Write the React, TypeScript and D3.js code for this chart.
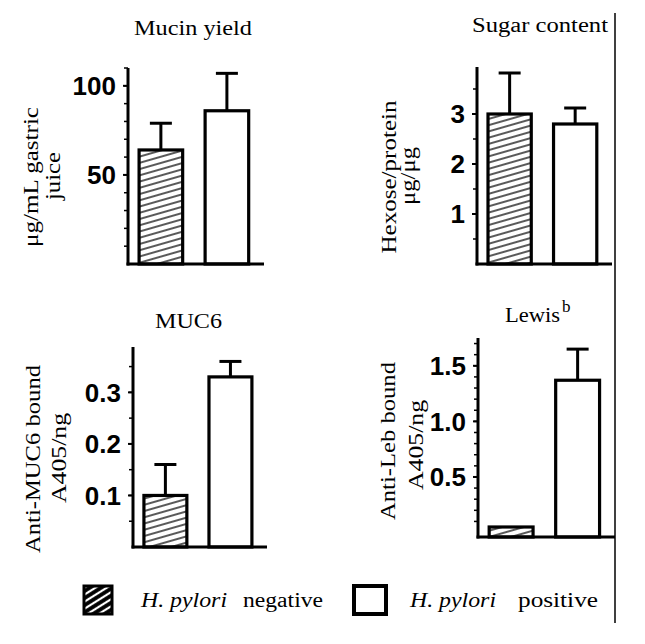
import React from "react";
import * as d3 from "d3";

// ---- data ----
const groups = ["negative", "positive"];
const panelTitles = ["Mucin yield", "Sugar content", "MUC6", "Lewis"];
const mucinMeans = [64, 86];
const mucinErr = [15, 21];
const sugarMeans = [3.0, 2.8];
const sugarErr = [0.82, 0.32];
const muc6Means = [0.1, 0.33];
const muc6Err = [0.06, 0.03];
const lewisMeans = [0.05, 1.37];
const lewisErr = [0, 0.28];
const mucinTicks = [50, 100];
const sugarTicks = [1, 2, 3];
const muc6Ticks = [0.1, 0.2, 0.3];
const lewisTicks = [0.5, 1.0, 1.5];
const mucinLabel = ["\u03bcg/mL gastric", "juice"];
const sugarLabel = ["Hexose/protein", "\u03bcg/\u03bcg"];
const muc6Label = ["Anti-MUC6 bound", "A405/ng"];
const lewisLabel = ["Anti-Leb bound", "A405/ng"];
const legendItalic = "H. pylori";

const SERIF = "'Liberation Serif', 'Times New Roman', serif";
const SANS = "'Liberation Sans', Arial, sans-serif";

type PanelProps = {
  title: string;
  sup?: string;
  titleX: number;
  titleY: number;
  titleLen: number;
  means: number[];
  errs: number[];
  ticks: number[];
  fmt: string;
  minorStep: number;
  domain: [number, number];
  axisX: number;
  right: number;
  top: number;
  base: number;
  labels: string[];
  labelPos: { x: number; y: number; len: number }[];
};

function Panel(p: PanelProps) {
  const y = d3.scaleLinear().domain(p.domain).range([p.base, p.top]);
  const x = d3
    .scaleBand<string>()
    .domain(groups)
    .range([p.axisX, p.right])
    .paddingInner(0.34)
    .paddingOuter(0.2)
    .align(0.42);
  const f = d3.format(p.fmt);
  const minors = d3
    .range(Math.ceil(p.domain[0] / p.minorStep) * p.minorStep, p.domain[1] + 1e-9, p.minorStep)
    .filter((v) => v > 0);
  return (
    <g>
      <text
        x={p.titleX}
        y={p.titleY}
        fontFamily={SERIF}
        fontSize={20}
        textLength={p.titleLen}
        lengthAdjust="spacingAndGlyphs"
      >
        {p.title}
      </text>
      {p.sup && (
        <text x={p.titleX + p.titleLen + 2} y={p.titleY - 10} fontFamily={SERIF} fontSize={17}>
          {p.sup}
        </text>
      )}
      {p.labels.map((l, i) => (
        <text
          key={i}
          transform={`translate(${p.labelPos[i].x},${p.labelPos[i].y}) rotate(-90)`}
          textAnchor="middle"
          fontFamily={SERIF}
          fontSize={20}
          textLength={p.labelPos[i].len}
          lengthAdjust="spacingAndGlyphs"
        >
          {l}
        </text>
      ))}
      {minors.map((v, i) => (
        <line key={"m" + i} x1={p.axisX - 4} x2={p.axisX} y1={y(v)} y2={y(v)} stroke="#000" strokeWidth={1.5} />
      ))}
      {p.ticks.map((t, i) => (
        <g key={"t" + i}>
          <line x1={p.axisX - 5} x2={p.axisX} y1={y(t)} y2={y(t)} stroke="#000" strokeWidth={2} />
          <text
            x={p.axisX - 12}
            y={y(t)}
            dy="0.36em"
            textAnchor="end"
            fontFamily={SANS}
            fontWeight="bold"
            fontSize={26}
          >
            {f(t)}
          </text>
        </g>
      ))}
      {groups.map((g, i) => {
        const bx = x(g)!;
        const bw = x.bandwidth();
        const topY = y(p.means[i]);
        const cx = bx + bw / 2;
        return (
          <g key={g}>
            {p.errs[i] > 0 && (
              <g>
                <line x1={cx} x2={cx} y1={topY} y2={y(p.means[i] + p.errs[i])} stroke="#000" strokeWidth={3} />
                <line
                  x1={cx - 11}
                  x2={cx + 11}
                  y1={y(p.means[i] + p.errs[i])}
                  y2={y(p.means[i] + p.errs[i])}
                  stroke="#000"
                  strokeWidth={3}
                />
              </g>
            )}
            <rect
              x={bx}
              y={topY}
              width={bw}
              height={p.base - topY}
              fill={i === 0 ? "url(#hatch)" : "#fff"}
              stroke="#000"
              strokeWidth={3.2}
            />
          </g>
        );
      })}
      <line x1={p.axisX} x2={p.axisX} y1={p.top} y2={p.base + 1.5} stroke="#000" strokeWidth={3} />
      <line x1={p.axisX - 1.5} x2={p.right} y1={p.base} y2={p.base} stroke="#000" strokeWidth={3} />
    </g>
  );
}

export default function App() {
  return (
    <svg width={645} height={644} style={{ position: "absolute", left: 0, top: 0, background: "#fff" }}>
      <defs>
        <pattern id="hatch" patternUnits="userSpaceOnUse" width={12} height={6} patternTransform="rotate(-16)">
          <rect width={12} height={6} fill="#fff" />
          <line x1={0} x2={12} y1={3} y2={3} stroke="#000" strokeWidth={1.3} />
        </pattern>
        <pattern id="hatchLegend" patternUnits="userSpaceOnUse" width={12} height={6} patternTransform="rotate(-32)">
          <rect width={12} height={6} fill="#000" />
          <line x1={0} x2={12} y1={3} y2={3} stroke="#fff" strokeWidth={2.2} />
        </pattern>
      </defs>
      <rect width={645} height={644} fill="#fff" />
      <Panel
        title={panelTitles[0]}
        titleX={134}
        titleY={35}
        titleLen={118}
        means={mucinMeans}
        errs={mucinErr}
        ticks={mucinTicks}
        fmt="d"
        minorStep={10}
        domain={[0, 110]}
        axisX={128}
        right={264}
        top={68}
        base={264}
        labels={mucinLabel}
        labelPos={[
          { x: 38, y: 177, len: 140 },
          { x: 60, y: 176, len: 48 },
        ]}
      />
      <Panel
        title={panelTitles[1]}
        titleX={472}
        titleY={32}
        titleLen={136}
        means={sugarMeans}
        errs={sugarErr}
        ticks={sugarTicks}
        fmt="d"
        minorStep={0.5}
        domain={[0, 3.94]}
        axisX={477}
        right={612}
        top={67}
        base={264}
        labels={sugarLabel}
        labelPos={[
          { x: 396, y: 177, len: 153 },
          { x: 415, y: 176, len: 58 },
        ]}
      />
      <Panel
        title={panelTitles[2]}
        titleX={155}
        titleY={328}
        titleLen={67}
        means={muc6Means}
        errs={muc6Err}
        ticks={muc6Ticks}
        fmt=".1f"
        minorStep={0.05}
        domain={[0, 0.388]}
        axisX={133}
        right={267}
        top={347}
        base={547}
        labels={muc6Label}
        labelPos={[
          { x: 40, y: 459, len: 188 },
          { x: 66, y: 458, len: 90 },
        ]}
      />
      <Panel
        title={panelTitles[3]}
        sup="b"
        titleX={505}
        titleY={322}
        titleLen={55}
        means={lewisMeans}
        errs={lewisErr}
        ticks={lewisTicks}
        fmt=".1f"
        minorStep={0.1}
        domain={[-0.04, 1.75]}
        axisX={478}
        right={615}
        top={338}
        base={537}
        labels={lewisLabel}
        labelPos={[
          { x: 395, y: 441, len: 158 },
          { x: 423, y: 445, len: 90 },
        ]}
      />
      <line x1={615} x2={615} y1={13} y2={623} stroke="#000" strokeWidth={1.5} />
      {/* legend */}
      <rect x={84} y={586} width={28} height={28} fill="url(#hatchLegend)" stroke="#000" strokeWidth={3} />
      <text x={141} y={607} fontFamily={SERIF} fontSize={20} fontStyle="italic" textLength={86} lengthAdjust="spacingAndGlyphs">
        {legendItalic}
      </text>
      <text x={243} y={607} fontFamily={SERIF} fontSize={20} textLength={80} lengthAdjust="spacingAndGlyphs">
        {groups[0]}
      </text>
      <rect x={354} y={586} width={32} height={28} fill="#fff" stroke="#000" strokeWidth={4} />
      <text x={410} y={607} fontFamily={SERIF} fontSize={20} fontStyle="italic" textLength={86} lengthAdjust="spacingAndGlyphs">
        {legendItalic}
      </text>
      <text x={518} y={607} fontFamily={SERIF} fontSize={20} textLength={80} lengthAdjust="spacingAndGlyphs">
        {groups[1]}
      </text>
    </svg>
  );
}
